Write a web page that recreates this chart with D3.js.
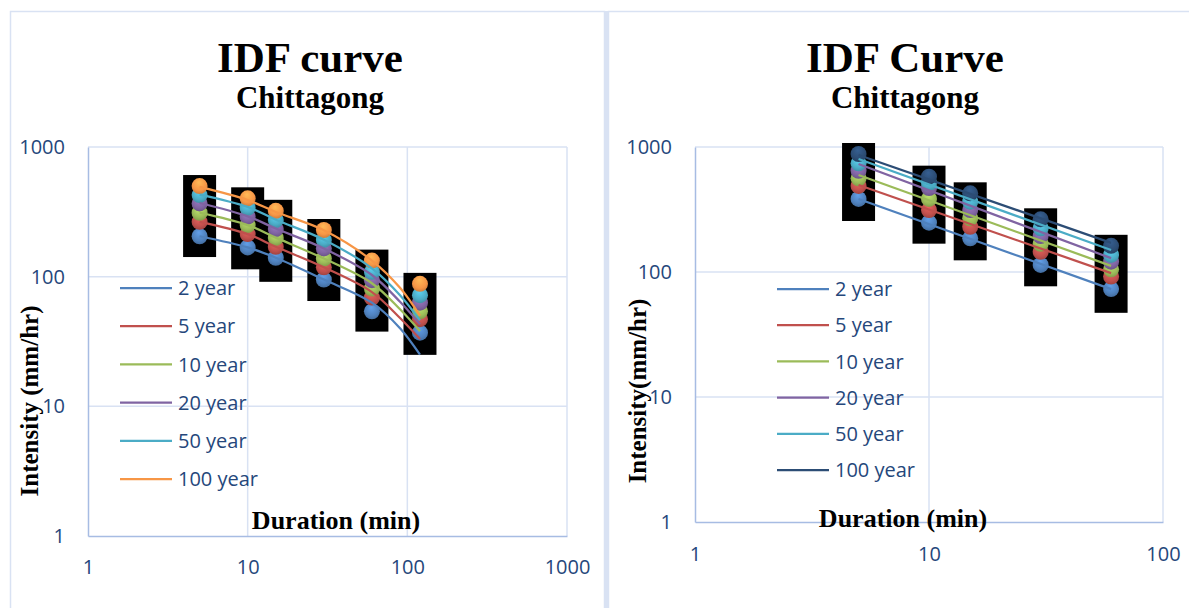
<!DOCTYPE html>
<html>
<head>
<meta charset="utf-8">
<script src="https://cdn.jsdelivr.net/npm/d3@7"></script>
<style>
  body { margin: 0; background: #fff; }
  svg { display: block; }
</style>
</head>
<body>
<div id="chart"></div>
<script>
// return periods (same for both panels)
const returnPeriods = ['2 year', '5 year', '10 year', '20 year', '50 year', '100 year'];

// left panel: observed intensities (mm/hr) and the fitted curves
const leftDurations = [5, 10, 15, 30, 60, 120];
const leftObserved = [
    [205, 168, 140, 95, 54, 37],
    [265, 213, 170, 118, 69, 47],
    [311, 250, 199, 138, 81, 54],
    [367, 290, 233, 165, 94, 63],
    [426, 340, 273, 192, 109, 72],
    [500, 402, 322, 229, 133, 88]
];
const leftFitDurations = [5, 10, 15, 30, 60, 90, 120];
const leftFitted = [
    [205, 168, 140, 95, 63, 40, 25],
    [265, 213, 170, 118, 76, 48, 33],
    [312, 250, 200, 138, 89, 56, 38],
    [370, 292, 235, 165, 103, 64, 43],
    [430, 345, 275, 193, 116, 72, 46],
    [492, 390, 315, 228, 133, 82, 50]
];
const leftXTicks = [1, 10, 100, 1000];
const leftYTicks = [1, 10, 100, 1000];

// right panel
const rightDurations = [5, 10, 15, 30, 60];
const rightObserved = [
    [384, 248, 186, 114, 73],
    [488, 313, 230, 145, 92],
    [562, 384, 269, 168, 105],
    [646, 470, 313, 194, 121],
    [740, 515, 365, 224, 137],
    [879, 579, 426, 264, 162]
];
const rightFitDurations = [5, 60];
const rightFitted = [
    [384, 73],
    [497, 98],
    [597, 112],
    [731, 129],
    [802, 150],
    [863, 171]
];
const rightXTicks = [1, 10, 100];
const rightYTicks = [1, 10, 100, 1000];

const leftColors = ['#4F81BD', '#C0504D', '#9BBB59', '#8064A2', '#4BACC6', '#F79646'];
const rightColors = ['#4F81BD', '#C0504D', '#9BBB59', '#8064A2', '#4BACC6', '#2C4D75'];

const width = 1189;
const height = 608;
const labelColor = '#25477B';
const gridColor = '#D9E2F3';
const axisColor = '#A7BCE3';

const svg = d3.select('#chart').append('svg')
    .attr('width', width)
    .attr('height', height);

const defs = svg.append('defs');

// panel frames
svg.append('rect')
    .attr('x', 10.5).attr('y', 11.5)
    .attr('width', 594).attr('height', 620)
    .attr('fill', 'none').attr('stroke', gridColor).attr('stroke-width', 1.5);
svg.append('rect')
    .attr('x', 608.5).attr('y', 11.5)
    .attr('width', 600).attr('height', 620)
    .attr('fill', 'none').attr('stroke', gridColor).attr('stroke-width', 1.5);
svg.append('line')
    .attr('x1', 606.5).attr('x2', 606.5).attr('y1', 11).attr('y2', height)
    .attr('stroke', gridColor).attr('stroke-width', 3);

function markerGradient(id, color)
{
    const g = defs.append('radialGradient')
        .attr('id', id)
        .attr('cx', '50%').attr('cy', '40%').attr('r', '60%')
        .attr('fx', '45%').attr('fy', '25%');
    g.append('stop').attr('offset', '0%').attr('stop-color', d3.color(color).brighter(0.6));
    g.append('stop').attr('offset', '70%').attr('stop-color', color);
    g.append('stop').attr('offset', '100%').attr('stop-color', d3.color(color).darker(0.5));
}

function drawPanel(p)
{
    const x = d3.scaleLog().domain(p.xDomain).range([p.left, p.right]);
    const y = d3.scaleLog().domain([1, 1000]).range([p.bottom, p.top]);
    const g = svg.append('g');

    // titles
    g.append('text')
        .attr('x', p.cx).attr('y', 72)
        .attr('text-anchor', 'middle')
        .style('font', 'bold 43px "Liberation Serif", serif')
        .text(p.title);
    g.append('text')
        .attr('x', p.cx).attr('y', 108)
        .attr('text-anchor', 'middle')
        .style('font', 'bold 31px "Liberation Serif", serif')
        .text('Chittagong');

    // grid
    g.selectAll('.vgrid')
        .data(p.xTicks.slice(1))
        .join('line')
            .attr('x1', d => x(d)).attr('x2', d => x(d))
            .attr('y1', p.top).attr('y2', p.bottom)
            .attr('stroke', gridColor).attr('stroke-width', 1.5);
    g.selectAll('.hgrid')
        .data(p.yTicks.slice(1))
        .join('line')
            .attr('x1', p.left).attr('x2', p.right)
            .attr('y1', d => y(d)).attr('y2', d => y(d))
            .attr('stroke', gridColor).attr('stroke-width', 1.5);

    // axes
    const yAxis = g.append('g')
        .attr('transform', `translate(${p.left}, 0)`)
        .call(d3.axisLeft(y).tickValues(p.yTicks).tickFormat(d3.format('d')).tickSize(0).tickPadding(23));
    const xAxis = g.append('g')
        .attr('transform', `translate(0, ${p.bottom})`)
        .call(d3.axisBottom(x).tickValues(p.xTicks).tickFormat(d3.format('d')).tickSize(0).tickPadding(p.xPad));
    [yAxis, xAxis].forEach(a => {
        a.select('.domain').attr('stroke', axisColor).attr('stroke-width', 1.5);
        a.selectAll('text')
            .attr('fill', labelColor)
            .style('font-family', '"Open Sans", sans-serif')
            .style('font-size', '20px');
    });

    // black boxes behind each duration group
    g.selectAll('.box')
        .data(p.durations)
        .join('rect')
            .attr('x', d => x(d) - 16.5)
            .attr('y', (d, i) => y(d3.max(p.observed, s => s[i])) - 11)
            .attr('width', 33)
            .attr('height', p.boxHeight)
            .attr('fill', '#000');

    // markers
    p.observed.forEach((series, k) => {
        const gid = `${p.id}-m${k}`;
        markerGradient(gid, p.colors[k]);
        g.selectAll(`.m${k}`)
            .data(series)
            .join('circle')
                .attr('cx', (d, i) => x(p.durations[i]))
                .attr('cy', d => y(d))
                .attr('r', 8)
                .attr('fill', `url(#${gid})`);
    });

    // fitted lines
    const line = d3.line()
        .x(d => x(d[0]))
        .y(d => y(d[1]))
        .curve(d3.curveCatmullRom.alpha(0.5));
    p.fitted.forEach((series, k) => {
        g.append('path')
            .datum(series.map((v, i) => [p.fitDurations[i], v]))
            .attr('d', line)
            .attr('fill', 'none')
            .attr('stroke', p.colors[k])
            .attr('stroke-width', 2.25);
    });

    // legend
    const legend = g.selectAll('.legend')
        .data(returnPeriods)
        .join('g')
            .attr('transform', (d, i) => `translate(${p.legendX}, ${p.legendY + i * p.legendStep})`);
    legend.append('line')
        .attr('x1', 0).attr('x2', 52)
        .attr('stroke', (d, i) => p.colors[i])
        .attr('stroke-width', 2.25);
    legend.append('text')
        .attr('x', 58).attr('dy', '0.36em')
        .attr('fill', labelColor)
        .style('font', '20px "Open Sans", sans-serif')
        .text(d => d);

    // axis titles
    g.append('text')
        .attr('transform', `translate(${p.yTitleX}, ${p.yTitleY}) rotate(-90)`)
        .attr('text-anchor', 'middle')
        .style('font', 'bold 25px "Liberation Serif", serif')
        .text(p.yTitle);
    g.append('text')
        .attr('x', p.xTitleX).attr('y', p.xTitleY)
        .attr('text-anchor', 'middle')
        .style('font', 'bold 26px "Liberation Serif", serif')
        .text('Duration (min)');
}

drawPanel({
    id: 'left', title: 'IDF curve', cx: 310,
    xDomain: [1, 1000], left: 88, right: 567, top: 147, bottom: 536, xPad: 24,
    xTicks: leftXTicks, yTicks: leftYTicks,
    durations: leftDurations, observed: leftObserved,
    fitDurations: leftFitDurations, fitted: leftFitted,
    colors: leftColors, boxHeight: 82,
    legendX: 120, legendY: 288, legendStep: 38.2,
    yTitle: 'Intensity (mm/hr)', yTitleX: 38, yTitleY: 401,
    xTitleX: 336, xTitleY: 529
});

drawPanel({
    id: 'right', title: 'IDF Curve', cx: 905,
    xDomain: [1, 100], left: 695, right: 1163, top: 147, bottom: 522, xPad: 25,
    xTicks: rightXTicks, yTicks: rightYTicks,
    durations: rightDurations, observed: rightObserved,
    fitDurations: rightFitDurations, fitted: rightFitted,
    colors: rightColors, boxHeight: 78,
    legendX: 777, legendY: 289, legendStep: 36.2,
    yTitle: 'Intensity(mm/hr)', yTitleX: 646, yTitleY: 391,
    xTitleX: 903, xTitleY: 527
});
</script>
</body>
</html>
